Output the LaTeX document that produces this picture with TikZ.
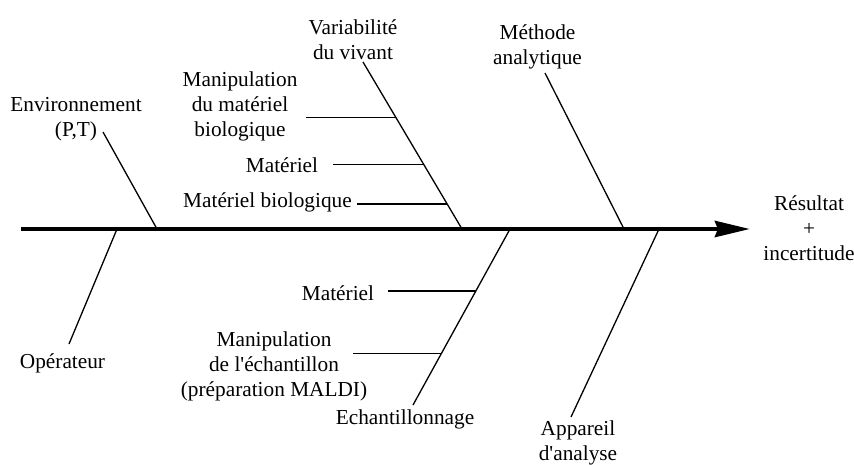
\documentclass[tikz,border=0pt]{standalone}
\usepackage{fontspec}
\setmainfont{Liberation Serif}
\usetikzlibrary{arrows.meta}
\newcommand{\apos}{\textquotesingle}
\begin{document}
\begin{tikzpicture}[x=1pt,y=-1pt,
  lbl/.style={inner sep=0pt, align=center, font=\fontsize{21.3}{25}\selectfont},
  bone/.style={line width=1.3pt},
  spine/.style={line width=4.5pt, -{Stealth[length=35pt,width=16pt,inset=3pt]}}]
\useasboundingbox (0,0) rectangle (854,464);
% spine
\coordinate (s0) at (21,229);
\coordinate (s1) at (750,229);
\draw[spine] (s0) -- (s1);
\node[lbl] (res) at (809,228) {Résultat\\+\\incertitude};
% main bones: tip coordinates and spine points
\coordinate (envT) at (103,132);  \coordinate (envS) at (157,229);
\coordinate (opT)  at (69,344);   \coordinate (opS)  at (117,229);
\coordinate (varT) at (363,62);   \coordinate (varS) at (462,229);
\coordinate (metT) at (545,73);   \coordinate (metS) at (624,229);
\coordinate (echT) at (413,405);  \coordinate (echS) at (510,229);
\coordinate (appT) at (571,417);  \coordinate (appS) at (659,229);
\draw[bone] (envT) -- (envS);
\draw[bone] (opT) -- (opS);
\draw[bone] (varT) -- (varS);
\draw[bone] (metT) -- (metS);
\draw[bone] (echT) -- (echS);
\draw[bone] (appT) -- (appS);
% labels of main bones
\node[lbl] (env) at (76,119) {Environnement\\(P,T)};
\node[lbl] (op)  at (62.5,363) {Opérateur};
\node[lbl] (var) at (353,40) {Variabilité\\du vivant};
\node[lbl] (met) at (537.5,47) {Méthode\\analytique};
\node[lbl] (ech) at (405,419) {Echantillonnage};
\node[lbl] (app) at (578,442.5) {Appareil\\d\apos analyse};
% sub-bones on "Variabilité du vivant"
\coordinate (v1a) at (306,117.3); \coordinate (v1b) at (396,117.3);
\coordinate (v2a) at (333,164.3); \coordinate (v2b) at (423.5,164.3);
\coordinate (v3a) at (357,204);   \coordinate (v3b) at (447,204);
\draw[bone] (v1a) -- (v1b);
\draw[bone] (v2a) -- (v2b);
\draw[bone] (v3a) -- (v3b);
\node[lbl] (manbio) at (240,106.5) {Manipulation\\du matériel\\biologique};
\node[lbl] (mat1) at (282,165) {Matériel};
\node[lbl] (matbio) at (267.5,202) {Matériel biologique};
% sub-bones on "Echantillonnage"
\coordinate (e1a) at (388,291);   \coordinate (e1b) at (475.8,291);
\coordinate (e2a) at (353,353.3); \coordinate (e2b) at (441.5,353.3);
\draw[bone] (e1a) -- (e1b);
\draw[bone] (e2a) -- (e2b);
\node[lbl] (mat2) at (338,293) {Matériel};
\node[lbl] (manech) at (274,366.5) {Manipulation\\de l\apos échantillon\\(préparation MALDI)};
\end{tikzpicture}
\end{document}
